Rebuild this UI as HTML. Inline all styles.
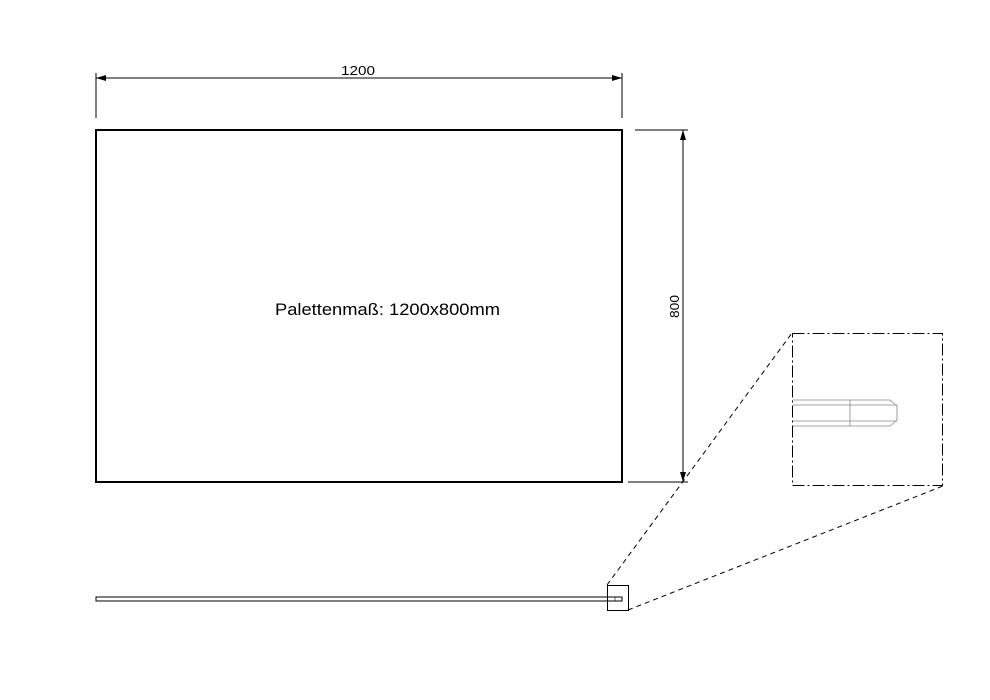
<!DOCTYPE html>
<html><head><meta charset="utf-8"><style>html,body{margin:0;padding:0;background:#fff}svg{display:block}</style></head>
<body>
<svg width="990" height="700" viewBox="0 0 990 700" xmlns="http://www.w3.org/2000/svg">
<defs>
<marker id="a" viewBox="0 0 10 6" refX="10" refY="3" markerWidth="10" markerHeight="6" orient="auto-start-reverse" markerUnits="userSpaceOnUse"><path d="M0,0 L10,3 L0,6z" fill="#000"/></marker>
</defs>
<rect x="96" y="130" width="526" height="352" fill="none" stroke="#000" stroke-width="2"/>
<text x="275" y="315" font-family="Liberation Sans, sans-serif" font-size="17" textLength="225" lengthAdjust="spacingAndGlyphs">Palettenmaß: 1200x800mm</text>
<!-- top dimension -->
<line x1="96" y1="73" x2="96" y2="118" stroke="#000" stroke-width="1"/>
<line x1="622" y1="73" x2="622" y2="118" stroke="#000" stroke-width="1"/>
<line x1="96" y1="78" x2="622" y2="78" stroke="#000" stroke-width="1" marker-start="url(#a)" marker-end="url(#a)"/>
<text x="341" y="75" font-family="Liberation Sans, sans-serif" font-size="13" textLength="34" lengthAdjust="spacingAndGlyphs">1200</text>
<!-- right dimension -->
<line x1="635" y1="130" x2="688" y2="130" stroke="#000" stroke-width="1"/>
<line x1="628" y1="482" x2="688" y2="482" stroke="#000" stroke-width="1"/>
<line x1="683" y1="130" x2="683" y2="482" stroke="#000" stroke-width="1" marker-start="url(#a)" marker-end="url(#a)"/>
<text x="0" y="0" transform="translate(679,318) rotate(-90)" font-family="Liberation Sans, sans-serif" font-size="13" textLength="23" lengthAdjust="spacingAndGlyphs">800</text>
<!-- bottom strip -->
<rect x="96" y="597" width="526" height="4" fill="none" stroke="#000" stroke-width="1"/>
<line x1="615" y1="597" x2="615" y2="601" stroke="#000" stroke-width="0.6"/>
<rect x="607.5" y="585.5" width="21" height="25" fill="none" stroke="#000" stroke-width="1"/>
<line x1="607" y1="585" x2="792" y2="333" stroke="#000" stroke-width="1" stroke-dasharray="5,4"/>
<line x1="628" y1="610" x2="943" y2="486" stroke="#000" stroke-width="1" stroke-dasharray="5,4"/>
<!-- detail box -->
<rect x="792.5" y="333.5" width="150" height="152" fill="none" stroke="#000" stroke-width="1" stroke-dasharray="12,3,2,3"/>
<g stroke="#888" stroke-width="0.8" fill="none">
<path d="M793,400 H890 L897,406 V420 L890,426 H793"/>
<line x1="793" y1="405" x2="897" y2="405"/>
<line x1="793" y1="421" x2="897" y2="421"/>
<line x1="850" y1="400" x2="850" y2="426"/>
</g>
</svg>
</body></html>
